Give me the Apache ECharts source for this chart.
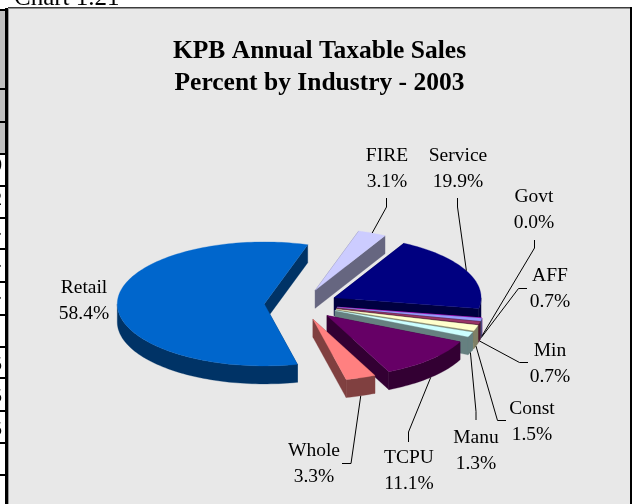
<!DOCTYPE html>
<html>
<head>
<meta charset="utf-8">
<title>KPB Annual Taxable Sales</title>
<style>
    html, body { margin: 0; padding: 0; background: #fff; }
    #chart { width: 639px; height: 504px; }
</style>
<script src="https://cdn.jsdelivr.net/npm/echarts@6/dist/echarts.min.js"></script>
</head>
<body>
<div id="chart"></div>
<script>
// slices in sheet order, first slice starts at firstAngle clockwise from top
var categories = ['AFF', 'Min', 'Const', 'Manu', 'TCPU', 'Whole', 'Retail', 'FIRE', 'Service', 'Govt'];
var percents = [0.7, 0.7, 1.5, 1.3, 11.1, 3.3, 58.4, 3.1, 19.9, 0.0];
var topColors = ['#9999FF', '#993366', '#FFFFCC', '#CCFFFF', '#660066', '#FF8080', '#0066CC', '#CCCCFF', '#000080', '#FF00FF'];
var sideColors = ['#4D4D80', '#4D1A33', '#808066', '#668080', '#330033', '#804040', '#003366', '#666680', '#000040', '#800080'];
var titleLines = ['KPB Annual Taxable Sales', 'Percent by Industry - 2003'];

// label centre and leader elbows, same order as categories
var labelPos = [[550, 289], [550, 364], [532, 422], [476, 451], [409, 471], [314, 464], [84, 301], [387, 169], [458, 169], [534, 210]];
var leaderBends = [
    [[518.5, 288.5], [527, 288.5]],
    [[519.5, 362.5], [528, 362.5]],
    [[497.5, 420.5], [506, 420.5]],
    [[476, 411.5], [476, 420]],
    [[408.5, 432], [408.5, 442]],
    [[351, 463.5], [342, 463.5]],
    null,
    [[386.5, 207], [386.5, 198]],
    [[457.5, 207], [457.5, 198]],
    [[534.5, 248], [534.5, 240]]
];

var firstAngle = 100;
var pieX = 301, pieY = 304.5;
var radiusX = 147, radiusY = 62;
var pieDepth = 18;
var explode = 0.25;

// bits of the page behind the chart, the cell text is cut off by the panel
var tableRules = [9, 88, 121, 153, 185, 217, 248, 281, 314, 346, 377, 410, 442, 474];
var cutCells = [['0', 166], ['2', 200], ['.', 230], ['.', 262], ['.', 294], ['5', 365], ['5', 397], ['5', 430]];

var angleStart = [];
var angleEnd = [];
(function () {
    var total = percents.reduce(function (a, b) { return a + b; }, 0);
    var cur = firstAngle;
    for (var i = 0; i < percents.length; i++) {
        angleStart.push(cur);
        cur += percents[i] / total * 360;
        angleEnd.push(cur);
    }
})();

// draw order, back slices first
var drawRank = [];
(function () {
    var idx = percents.map(function (v, i) { return i; });
    idx.sort(function (a, b) { return midFront(a) - midFront(b); });
    idx.forEach(function (v, r) { drawRank[v] = r; });
})();

function midFront(i) {
    return -Math.cos((angleStart[i] + angleEnd[i]) / 2 * Math.PI / 180);
}

function pointAt(cx, cy, deg, r) {
    var t = deg * Math.PI / 180;
    return [cx + Math.sin(t) * radiusX * r, cy - Math.cos(t) * radiusY * r];
}

function arcPoints(cx, cy, from, to) {
    var pts = [];
    var n = Math.max(2, Math.ceil((to - from) / 1.5));
    for (var k = 0; k <= n; k++) {
        pts.push(pointAt(cx, cy, from + (to - from) * k / n, 1));
    }
    return pts;
}

function shift(pts) {
    return pts.map(function (p) { return [p[0], p[1] + pieDepth]; });
}

function renderSlice(params, api) {
    var i = params.dataIndex;
    var from = angleStart[i], to = angleEnd[i];
    var mid = (from + to) / 2;
    var centre = pointAt(pieX, pieY, mid, explode);
    var cx = centre[0], cy = centre[1];
    var base = drawRank[i] * 10 + 10;
    var kids = [];

    function face(pts, fill, z) {
        kids.push({
            type: 'polygon',
            shape: { points: pts },
            style: { fill: fill, stroke: fill, lineWidth: 0.3 },
            z2: z
        });
    }

    // cut faces
    var p0 = pointAt(cx, cy, from, 1);
    var p1 = pointAt(cx, cy, to, 1);
    var c = [cx, cy];
    face([c, p0].concat(shift([p0, c])), sideColors[i], base);
    face([c, p1].concat(shift([p1, c])), sideColors[i], base);

    // outer wall, only the part that faces the viewer
    for (var k = 0; k <= 360; k += 360) {
        var a = Math.max(from, 90 + k);
        var b = Math.min(to, 270 + k);
        if (b > a) {
            var arc = arcPoints(cx, cy, a, b);
            face(arc.concat(shift(arc).reverse()), sideColors[i], base + 1);
        }
    }

    // top
    face([c].concat(arcPoints(cx, cy, from, to)), topColors[i], base + 2);

    // leader line, ends on the wall for slices on the front side
    var bends = leaderBends[i];
    if (bends) {
        var anchor = pointAt(cx, cy, mid, 1);
        if (Math.cos(mid * Math.PI / 180) < 0) {
            anchor = [anchor[0], anchor[1] + pieDepth];
        }
        kids.push({
            type: 'polyline',
            shape: { points: [anchor].concat(bends) },
            style: { fill: null, stroke: '#000', lineWidth: 1 },
            z2: 500
        });
    }

    kids.push({
        type: 'text',
        x: labelPos[i][0],
        y: labelPos[i][1],
        style: {
            text: categories[i] + '\n' + api.value(0).toFixed(1) + '%',
            fill: '#000',
            font: '19.5px "Liberation Serif"',
            lineHeight: 25.5,
            align: 'center',
            verticalAlign: 'middle'
        },
        z2: 600
    });

    return { type: 'group', children: kids };
}

function pageGraphics() {
    var els = [];
    function box(x, y, w, h, fill, z) {
        els.push({ type: 'rect', shape: { x: x, y: y, width: w, height: h }, style: { fill: fill }, z: z });
    }
    box(0, 10, 5, 143, '#C0C0C0', -5);
    tableRules.forEach(function (y) { box(0, y, 5, 2, '#000', -4); });
    cutCells.forEach(function (c) {
        els.push({
            type: 'text', x: 2, y: c[1],
            style: { text: c[0], fill: '#000', font: '19px "Liberation Serif"', align: 'right', verticalAlign: 'middle' },
            z: -6
        });
    });
    box(5, 8, 3, 496, '#000', -3);
    box(8, 7, 624, 497, '#E8E8E8', -3);
    box(8, 7, 624, 1.5, '#3C3C3C', -2);
    box(8, 8, 1, 496, '#999', -2);
    box(630, 7, 2, 497, '#000', -2);
    els.push({
        type: 'text', x: 14, y: 11,
        style: { text: 'Chart 1.21', fill: '#000', font: '25px "Liberation Serif"', align: 'left', verticalAlign: 'bottom' },
        z: -4
    });
    return els;
}

var myChart = echarts.init(document.getElementById('chart'));
var option = {
    animation: false,
    backgroundColor: '#fff',
    title: {
        text: titleLines.join('\n'),
        left: 319.5,
        top: 35,
        padding: 0,
        textAlign: 'center',
        textStyle: {
            fontFamily: 'Liberation Serif',
            fontWeight: 'bold',
            fontSize: 25.5,
            lineHeight: 32,
            color: '#000'
        }
    },
    graphic: pageGraphics(),
    series: [
        {
            type: 'custom',
            coordinateSystem: 'none',
            silent: true,
            renderItem: renderSlice,
            data: percents.map(function (v) { return [v]; })
        }
    ]
};
myChart.setOption(option);
</script>
</body>
</html>
